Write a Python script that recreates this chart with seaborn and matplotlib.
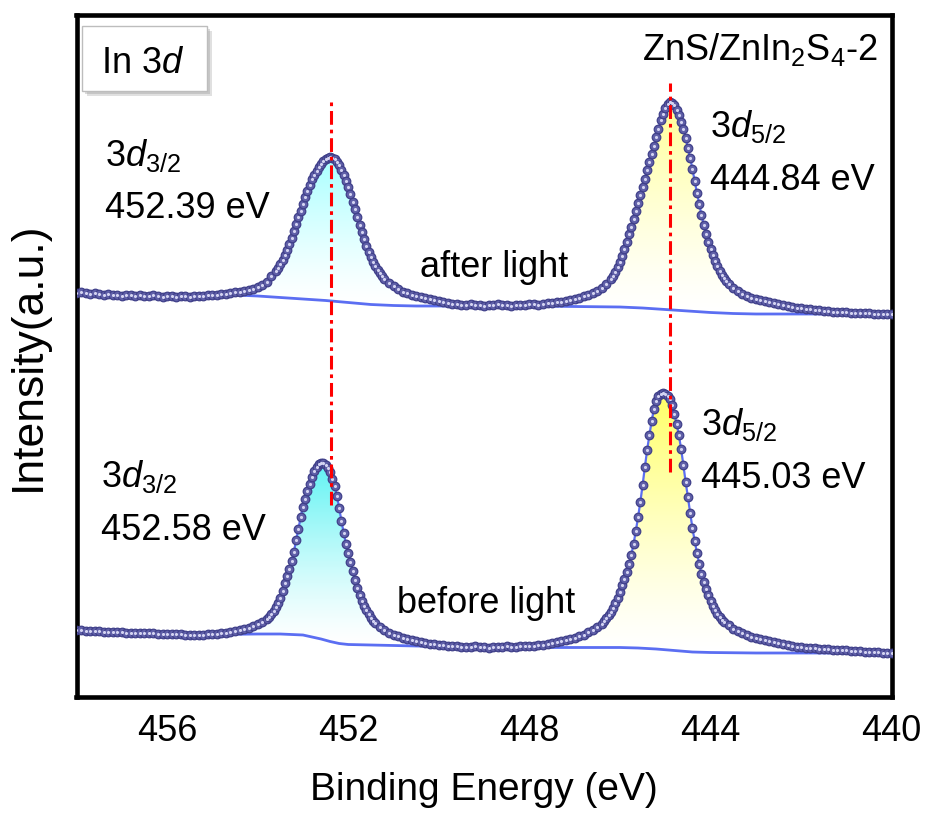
import numpy as np
import pandas as pd
import matplotlib
matplotlib.use("Agg")
import matplotlib.pyplot as plt
import seaborn as sns
from matplotlib.colors import LinearSegmentedColormap
from matplotlib.patches import Rectangle

# ---------------- data ----------------
# each segment: (start energy eV, step eV, intensities a.u.)
after_a = [404, 405, 404, 403, 404, 403, 402, 403, 402, 402,
           401, 402, 402, 401, 402, 401, 401, 402, 401, 400,
           401, 401, 400, 401, 401, 400, 401, 401, 401, 402,
           402, 402, 403, 403, 404, 405, 405, 406, 407, 408,
           410, 412, 415, 421]
after_b = [426, 429, 433, 437, 442, 447, 453, 459, 466, 473,
           480, 486, 493, 500, 506, 512, 518, 522, 526, 530,
           533, 536, 538, 539, 540,
           539, 538, 535, 532, 527, 522, 516, 510, 503, 495,
           488, 480, 472, 465, 458, 451, 445, 440, 435, 431,
           427, 424, 421, 418]
after_c = [414, 411, 408, 405, 404, 402, 401, 400, 399, 398,
           397, 396, 395, 394, 393, 393, 392, 392, 393, 392,
           392, 391, 392, 392, 393, 392, 392, 391, 392, 392,
           392, 393, 393, 392, 393, 394, 394, 395, 395, 396,
           397, 398, 399, 401, 402, 404, 406, 409, 413]
after_d = [418, 421, 425, 430, 435, 441, 448, 455, 463, 470,
           478, 486, 494, 502, 510, 518, 527, 535, 543, 551,
           560, 568, 577, 583, 589, 593, 595,
           594, 592, 587, 582, 575, 568, 559, 549, 539, 528,
           516, 504, 493, 482, 472, 463, 455, 448, 442, 436,
           431, 426, 422, 419, 416, 413]
after_e = [409, 406, 403, 401, 399, 398, 397, 396, 395, 394,
           393, 392, 391, 390, 389, 389, 388, 388, 387, 387,
           386, 386, 385, 385, 385, 385, 384, 384, 384, 384,
           384, 383, 383, 383, 383, 383]
after_segments = [(458.0, -0.1, after_a), (453.60, -0.05, after_b),
                  (451.1, -0.1, after_c), (446.20, -0.05, after_d),
                  (443.5, -0.1, after_e)]

before_a = [67, 67, 66, 66, 66, 66, 65, 65, 65, 65,
            65, 64, 64, 64, 64, 64, 64, 64, 63, 63,
            63, 63, 63, 63, 62, 62, 62, 62, 62, 63,
            63, 63, 64, 64, 65, 66, 67, 68, 69, 71,
            73, 75]
before_b = [78, 80, 83, 86, 90, 94, 99, 106, 114, 121,
            128, 136, 145, 157, 168, 180, 190, 198, 206, 213,
            220, 226, 230, 233, 234,
            234, 232, 229, 225, 218, 211, 201, 189, 176, 164,
            153, 144, 135, 126, 117, 109, 102, 96, 91, 87,
            83, 79, 76, 74]
before_c = [70, 67, 64, 62, 61, 59, 58, 57, 56, 55,
            54, 53, 53, 52, 52, 51, 51, 51, 50, 50,
            50, 51, 50, 50, 49, 50, 50, 50, 51, 50,
            50, 51, 51, 51, 51, 52, 52, 53, 54, 55,
            56, 57, 58, 59, 61, 62, 65, 67, 70, 73]
before_d = [76, 79, 82, 85, 89, 94, 99, 105, 112, 118,
            125, 133, 142, 153, 166, 180, 195, 212, 230, 247,
            262, 276, 288, 296, 301, 303, 304,
            303, 301, 298, 292, 283, 273, 262, 248, 232, 215,
            200, 184, 169, 156, 144, 133, 123, 115, 108, 102,
            96, 91, 87, 83, 80, 77]
before_e = [75, 72, 68, 66, 64, 62, 60, 59, 58, 57,
            56, 55, 54, 53, 52, 51, 50, 50, 49, 49,
            49, 48, 48, 48, 47, 47, 47, 47, 46, 46,
            46, 45, 45, 45, 45, 44, 44, 44]
before_segments = [(458.0, -0.1, before_a), (453.80, -0.05, before_b),
                   (451.3, -0.1, before_c), (446.35, -0.05, before_d),
                   (443.7, -0.1, before_e)]

# Shirley-type backgrounds
after_bg_x = [458.0, 457.0, 456.0, 455.0, 454.5, 454.0, 453.5, 453.0, 452.5,
              452.0, 451.5, 451.0, 450.5, 450.0, 449.0, 448.0, 447.0, 446.0,
              445.5, 445.0, 444.5, 444.0, 443.5, 443.0, 442.0, 441.0, 440.0]
after_bg_y = [404, 402, 401, 401, 402, 401, 399.5, 398, 396.5,
              394.5, 392.5, 391.5, 391, 391, 391, 391, 390.5, 390,
              389, 387.5, 386, 384.5, 383.5, 383, 383, 383, 383]
before_bg_x = [458.0, 457.0, 456.0, 455.0, 454.0, 453.5, 453.0, 452.8, 452.6,
               452.4, 452.2, 452.0, 451.5, 451.0, 450.0, 449.0, 448.0, 447.0,
               446.0, 445.6, 445.2, 444.8, 444.4, 444.0, 443.0, 442.0, 441.0, 440.0]
before_bg_y = [67, 65, 63, 62.5, 63, 63, 62, 60, 58,
               55.5, 53.5, 52.5, 52, 51.5, 50.5, 49.5, 49.5, 49.5,
               49.5, 49, 48, 46.5, 45, 44.5, 44, 44, 44, 44]

# peak fill windows (eV) and colours
fill_windows = [("after", 454.6, 449.6, "#a8ffff"),
                ("after", 447.3, 441.8, "#ffff98"),
                ("before", 454.6, 450.0, "#5ff3f3"),
                ("before", 447.4, 442.3, "#ffff66")]

# guide lines at the after-light peak positions
guide_be = [452.39, 444.90]
guide_ymin = [192, 225]
guide_ymax = [597, 614]

major_ticks = [456, 452, 448, 444, 440]
minor_ticks = [454, 450, 446, 442]


def build(segments):
    xs, ys = [], []
    for start, step, vals in segments:
        xs.extend(np.round(start + step * np.arange(len(vals)), 3))
        ys.extend(vals)
    return pd.DataFrame({"BE": np.array(xs), "I": np.array(ys, float)})


spectra = {"after": build(after_segments), "before": build(before_segments)}
backgrounds = {"after": (np.array(after_bg_x), np.array(after_bg_y, float)),
               "before": (np.array(before_bg_x), np.array(before_bg_y, float))}

# ---------------- style ----------------
sns.set_style("white")
plt.rcParams["font.family"] = ["Liberation Sans", "DejaVu Sans"]
plt.rcParams["mathtext.fontset"] = "custom"
plt.rcParams["mathtext.rm"] = "Liberation Sans"
plt.rcParams["mathtext.it"] = "Liberation Sans:italic"
plt.rcParams["mathtext.bf"] = "Liberation Sans:bold"
plt.rcParams["text.color"] = "black"
plt.rcParams["axes.labelcolor"] = "black"
plt.rcParams["xtick.color"] = "black"
plt.rcParams["ytick.color"] = "black"

fig = plt.figure(figsize=(9.26, 8.14), dpi=100)
ax = fig.add_axes([76.5 / 926, 1 - 697 / 814, (891.7 - 76.5) / 926, (697 - 15) / 814])

line_blue = "#5b6ef2"
grad = np.linspace(0, 1, 256).reshape(-1, 1) ** 1.3

# gradient fills
for key, hi, lo, col in fill_windows:
    df = spectra[key]
    bx, by = backgrounds[key]
    m = (df["BE"] <= hi) & (df["BE"] >= lo)
    xb = df["BE"][m].values
    yt = df["I"][m].values
    yb = np.interp(xb, bx[::-1], by[::-1])
    poly = ax.fill_between(xb, yb, yt, facecolor="none", edgecolor="none")
    cmap = LinearSegmentedColormap.from_list("g", ["#ffffff", col])
    img = ax.imshow(grad, extent=[hi, lo, yb.min(), yt.max()], origin="lower",
                    aspect="auto", cmap=cmap, zorder=1, interpolation="bilinear")
    img.set_clip_path(poly.get_paths()[0], transform=ax.transData)

for key, df in spectra.items():
    bx, by = backgrounds[key]
    sns.lineplot(x=bx, y=by, color=line_blue, lw=2.0, ax=ax, zorder=2,
                 estimator=None, sort=False)
    sns.lineplot(data=df, x="BE", y="I", color=line_blue, lw=1.6, ax=ax,
                 zorder=2, estimator=None, sort=False)
    sns.scatterplot(data=df, x="BE", y="I", s=38, color="#6060a8",
                    edgecolor="#40408a", linewidth=0.9, ax=ax, zorder=4,
                    legend=False)
    sns.scatterplot(data=df, x="BE", y="I", s=5, color="#d4d4f2",
                    linewidth=0, ax=ax, zorder=5, legend=False)

ax.vlines(guide_be, guide_ymin, guide_ymax, colors="#ff0000", lw=2.2,
          linestyles=[(0, (4.5, 1.6, 1.2, 1.6))], zorder=6)

# labels
tsize = 26
ax.text(457.36, 531, r"3$\mathit{d}_{\mathrm{3/2}}$", fontsize=tsize, zorder=7)
ax.text(457.36, 479, "452.39 eV", fontsize=tsize, zorder=7)
ax.text(444.01, 560, r"3$\mathit{d}_{\mathrm{5/2}}$", fontsize=tsize, zorder=7)
ax.text(444.01, 507, "444.84 eV", fontsize=tsize, zorder=7)
ax.text(457.47, 210, r"3$\mathit{d}_{\mathrm{3/2}}$", fontsize=tsize, zorder=7)
ax.text(457.47, 157, "452.58 eV", fontsize=tsize, zorder=7)
ax.text(444.21, 262, r"3$\mathit{d}_{\mathrm{5/2}}$", fontsize=tsize, zorder=7)
ax.text(444.21, 209, "445.03 eV", fontsize=tsize, zorder=7)
ax.text(450.41, 420, "after light", fontsize=26, zorder=7)
ax.text(450.92, 84, "before light", fontsize=26, zorder=7)
ax.text(445.51, 637, r"ZnS/ZnIn$_{\mathrm{2}}$S$_{\mathrm{4}}$-2", fontsize=26, zorder=7)

# "In 3d" box with shadow
px = 1 / 45.3
ax.add_patch(Rectangle((455.11 - 5 * px, 601), 2.76, 65, facecolor="#9a9a9a",
                       alpha=0.3, edgecolor="none", zorder=6))
ax.add_patch(Rectangle((455.11 - 3 * px, 603), 2.76, 65, facecolor="#8a8a8a",
                       alpha=0.3, edgecolor="none", zorder=6))
ax.add_patch(Rectangle((455.11, 606), 2.76, 65, facecolor="white",
                       edgecolor="#bdbdbd", lw=1.0, zorder=7))
ax.text(457.47, 624, r"In 3$\mathit{d}$", fontsize=26, zorder=8)

# axes
ax.set_xlim(458, 440)
ax.set_ylim(0, 682)
ax.set_yticks([])
ax.set_xticks(major_ticks)
ax.set_xticks(minor_ticks, minor=True)
ax.set_xticklabels([str(t) for t in major_ticks])
ax.tick_params(axis="x", which="major", direction="in", length=9, width=3.3,
               labelsize=26, pad=12, color="black", labelcolor="black")
ax.tick_params(axis="x", which="minor", direction="in", length=4, width=3.3,
               color="black")
for s in ax.spines.values():
    s.set_linewidth(3.3)
    s.set_color("black")
ax.set_xlabel("Binding Energy (eV)", fontsize=28, labelpad=17)
ax.set_ylabel("Intensity(a.u.)", fontsize=32, labelpad=20)

fig.savefig("out.png", dpi=100)
